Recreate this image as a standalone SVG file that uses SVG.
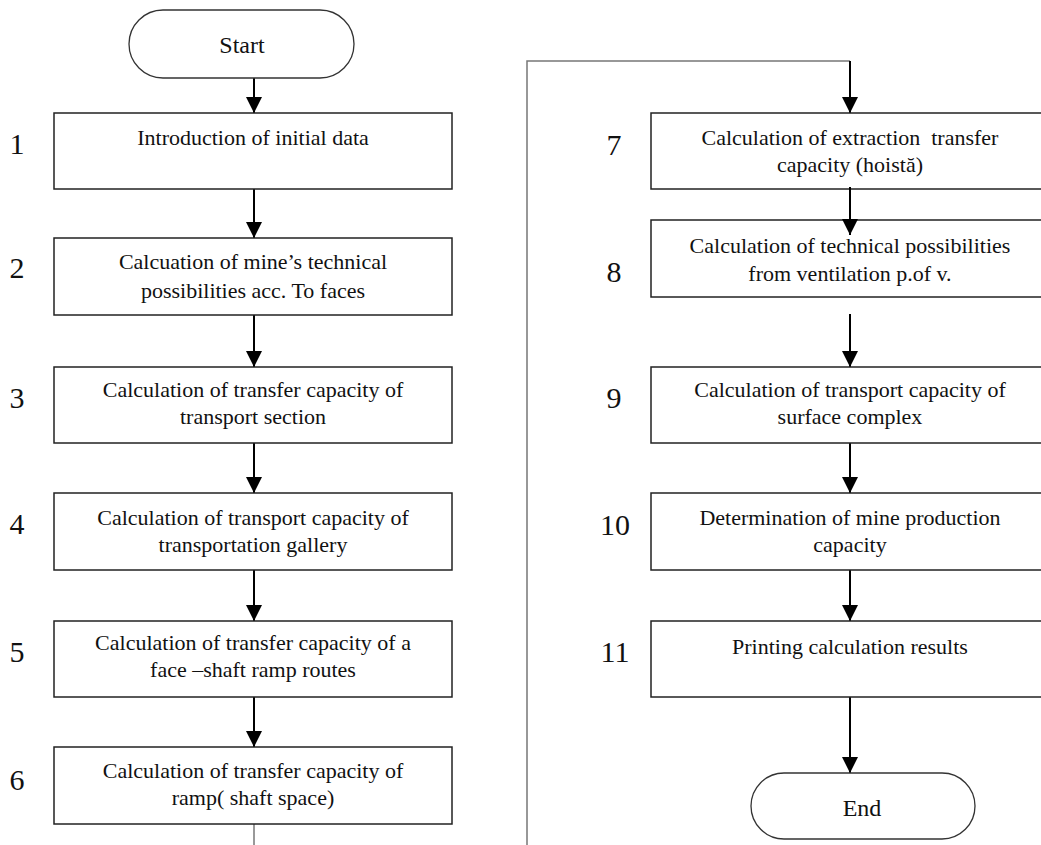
<svg xmlns="http://www.w3.org/2000/svg" width="1041" height="845" viewBox="0 0 1041 845">
<defs>
<style>
.box{fill:#fff;stroke:#222;stroke-width:1.5}
.term{fill:#fff;stroke:#333;stroke-width:1.3}
.t{font-family:"Liberation Serif","Times New Roman",serif;font-size:22px;fill:#111;text-anchor:middle}
.tt{font-family:"Liberation Serif","Times New Roman",serif;font-size:24px;fill:#111;text-anchor:middle}
.n{font-family:"Liberation Serif","Times New Roman",serif;font-size:30px;fill:#111;text-anchor:middle}
.c{fill:none;stroke:#000;stroke-width:2}
.g{fill:none;stroke:#777;stroke-width:1.5}
</style>
<marker id="ah" markerUnits="userSpaceOnUse" markerWidth="16" markerHeight="16" refX="16" refY="8" orient="auto" viewBox="0 0 16 16">
<path d="M0,0 L16,8 L0,16 Z" fill="#000"/>
</marker>
</defs>
<rect width="1041" height="845" fill="#fff"/>

<g id="connectors">
<line class="c" x1="254" y1="61" x2="254" y2="113" marker-end="url(#ah)"/>
<line class="c" x1="254" y1="189" x2="254" y2="238" marker-end="url(#ah)"/>
<line class="c" x1="254" y1="315" x2="254" y2="367" marker-end="url(#ah)"/>
<line class="c" x1="254" y1="443" x2="254" y2="493" marker-end="url(#ah)"/>
<line class="c" x1="254" y1="570" x2="254" y2="621" marker-end="url(#ah)"/>
<line class="c" x1="254" y1="697" x2="254" y2="747" marker-end="url(#ah)"/>
<line class="g" x1="254" y1="824" x2="254" y2="845"/>
<polyline class="g" points="527,845 527,61 850,61"/>
<line class="c" x1="850" y1="61" x2="850" y2="113" marker-end="url(#ah)"/>
<line class="c" x1="850" y1="314" x2="850" y2="367" marker-end="url(#ah)"/>
<line class="c" x1="850" y1="443" x2="850" y2="493" marker-end="url(#ah)"/>
<line class="c" x1="850" y1="570" x2="850" y2="621" marker-end="url(#ah)"/>
<line class="c" x1="850" y1="697" x2="850" y2="773" marker-end="url(#ah)"/>
</g>

<g id="start">
<rect class="term" x="129" y="10" width="225" height="68" rx="34" ry="34"/>
<text class="tt" x="242" y="53">Start</text>
</g>

<g id="n1">
<rect class="box" x="54" y="113" width="398" height="76"/>
<text class="t" x="253" y="145">Introduction of initial data</text>
<text class="n" x="17" y="154">1</text>
</g>

<g id="n2">
<rect class="box" x="54" y="238" width="398" height="77"/>
<text class="t" x="253" y="269">Calcuation of mine’s technical</text>
<text class="t" x="253" y="298">possibilities acc. To faces</text>
<text class="n" x="17" y="278">2</text>
</g>

<g id="n3">
<rect class="box" x="54" y="367" width="398" height="76"/>
<text class="t" x="253" y="397">Calculation of transfer capacity of</text>
<text class="t" x="253" y="424">transport section</text>
<text class="n" x="17" y="408">3</text>
</g>

<g id="n4">
<rect class="box" x="54" y="493" width="398" height="77"/>
<text class="t" x="253" y="525">Calculation of transport capacity of</text>
<text class="t" x="253" y="552">transportation gallery</text>
<text class="n" x="17" y="534">4</text>
</g>

<g id="n5">
<rect class="box" x="54" y="621" width="398" height="76"/>
<text class="t" x="253" y="650">Calculation of transfer capacity of a</text>
<text class="t" x="253" y="677">face –shaft ramp routes</text>
<text class="n" x="17" y="662">5</text>
</g>

<g id="n6">
<rect class="box" x="54" y="747" width="398" height="77"/>
<text class="t" x="253" y="778">Calculation of transfer capacity of</text>
<text class="t" x="253" y="805">ramp( shaft space)</text>
<text class="n" x="17" y="790">6</text>
</g>

<g id="n7">
<rect class="box" x="651" y="113" width="398" height="76"/>
<text class="t" x="850" y="145" xml:space="preserve">Calculation of extraction  transfer</text>
<text class="t" x="850" y="172">capacity (hoistă)</text>
<text class="n" x="614" y="155">7</text>
</g>

<g id="n8">
<rect class="box" x="651" y="220" width="398" height="77"/>
<text class="t" x="850" y="253">Calculation of technical possibilities</text>
<text class="t" x="850" y="281">from ventilation p.of v.</text>
<text class="n" x="614" y="282">8</text>
</g>
<line class="c" x1="850" y1="187" x2="850" y2="235" marker-end="url(#ah)"/>

<g id="n9">
<rect class="box" x="651" y="367" width="398" height="76"/>
<text class="t" x="850" y="397">Calculation of transport capacity of</text>
<text class="t" x="850" y="424">surface complex</text>
<text class="n" x="614" y="408">9</text>
</g>

<g id="n10">
<rect class="box" x="651" y="493" width="398" height="77"/>
<text class="t" x="850" y="525">Determination of mine production</text>
<text class="t" x="850" y="552">capacity</text>
<text class="n" x="615" y="535">10</text>
</g>

<g id="n11">
<rect class="box" x="651" y="621" width="398" height="76"/>
<text class="t" x="850" y="654">Printing calculation results</text>
<text class="n" x="615" y="662">11</text>
</g>

<g id="end">
<rect class="term" x="751" y="773" width="224" height="66" rx="33" ry="33"/>
<text class="tt" x="862" y="816">End</text>
</g>
</svg>
